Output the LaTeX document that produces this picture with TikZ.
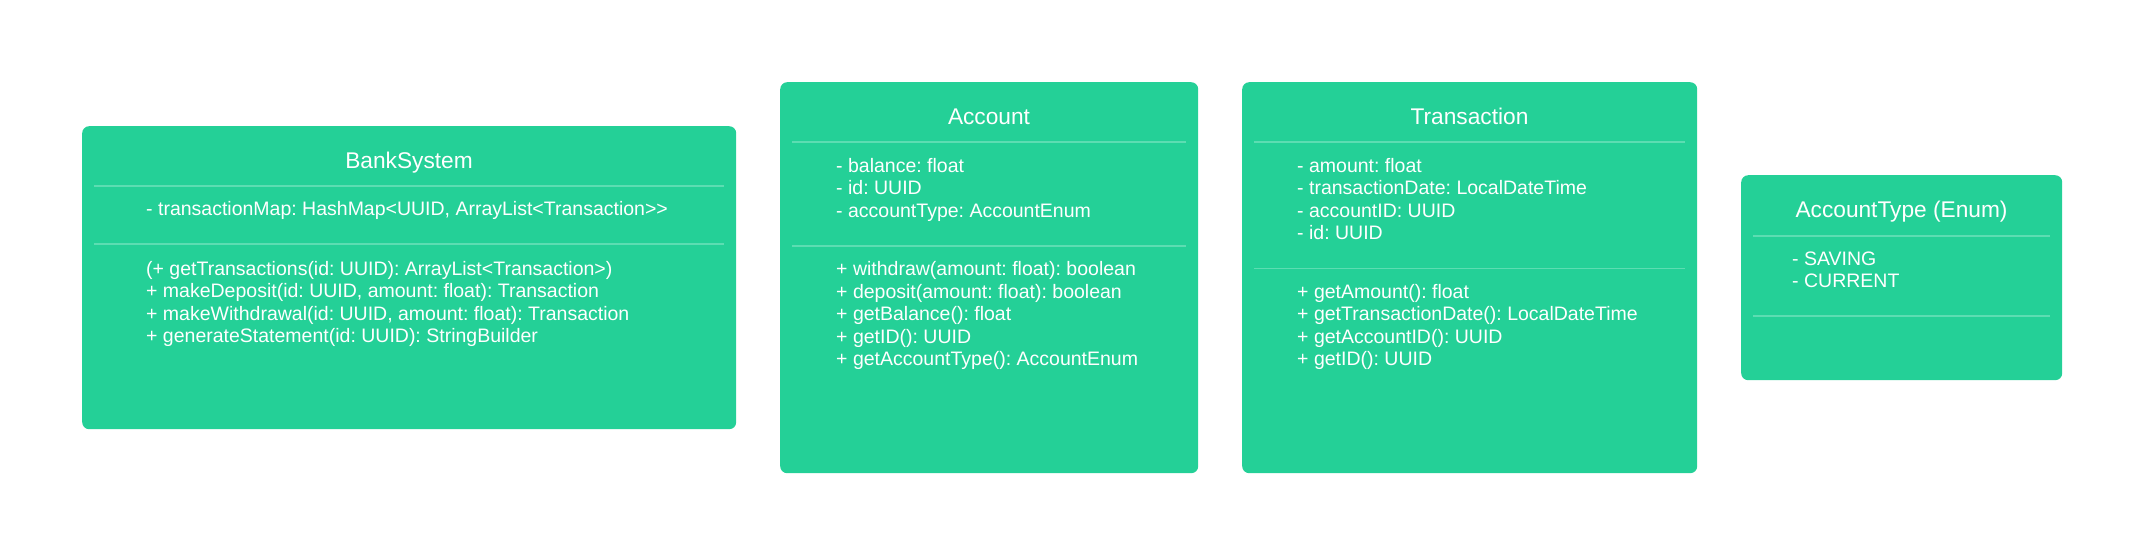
\documentclass[tikz,border=0pt]{standalone}
\usepackage{fontspec}
\setmainfont[Ligatures={TeXOff,NoCommon}]{Liberation Sans}
\frenchspacing
\definecolor{classgreen}{HTML}{24D097}
\definecolor{sepgreen}{HTML}{5CDDB2}

\begin{document}
\begin{tikzpicture}[x=1pt,y=-1pt,
  classbox/.style={fill=classgreen,rounded corners=7pt,inner sep=0pt,anchor=north west},
  classname/.style={text=white,font=\fontsize{22.7}{26}\selectfont,anchor=base,inner sep=0pt},
  members/.style={text=white,font=\fontsize{19.5}{22.5}\selectfont,align=left,anchor=base west,inner sep=0pt},
  sepline/.style={draw=sepgreen,line width=1.5pt,shorten <=12pt,shorten >=12pt}]

  \useasboundingbox (0,0) rectangle (2144,555);

  % BankSystem
  \node[classbox,minimum width=654pt,minimum height=303pt] (bank) at (82,126) {};
  \node[classname] (banktitle) at (409,168.3) {BankSystem};
  \node[members] (bankattr) at (146,215.7) {- transactionMap: HashMap<UUID, ArrayList<Transaction>>};
  % base of a multi-line node = last line
  \node[members] (bankops) at (146,342.5)
    {(+ getTransactions(id: UUID): ArrayList<Transaction>)\\
     + makeDeposit(id: UUID, amount: float): Transaction\\
     + makeWithdrawal(id: UUID, amount: float): Transaction\\
     + generateStatement(id: UUID): StringBuilder};
  \draw[sepline] (bank.west |- 0,186) -- (bank.east |- 0,186);
  \draw[sepline] (bank.west |- 0,244) -- (bank.east |- 0,244);

  % Account
  \node[classbox,minimum width=418pt,minimum height=391pt] (account) at (780,82) {};
  \node[classname] (accounttitle) at (989,124) {Account};
  \node[members] (accountattr) at (836,217.3)
    {- balance: float\\
     - id: UUID\\
     - accountType: AccountEnum};
  \node[members] (accountops) at (836,365.7)
    {+ withdraw(amount: float): boolean\\
     + deposit(amount: float): boolean\\
     + getBalance(): float\\
     + getID(): UUID\\
     + getAccountType(): AccountEnum};
  \draw[sepline] (account.west |- 0,142) -- (account.east |- 0,142);
  \draw[sepline] (account.west |- 0,246) -- (account.east |- 0,246);

  % Transaction
  \node[classbox,minimum width=455pt,minimum height=391pt] (trans) at (1242,82) {};
  \node[classname] (transtitle) at (1469.5,124) {Transaction};
  \node[members] (transattr) at (1297,239.8)
    {- amount: float\\
     - transactionDate: LocalDateTime\\
     - accountID: UUID\\
     - id: UUID};
  \node[members] (transops) at (1297,365.8)
    {+ getAmount(): float\\
     + getTransactionDate(): LocalDateTime\\
     + getAccountID(): UUID\\
     + getID(): UUID};
  \draw[sepline] (trans.west |- 0,142) -- (trans.east |- 0,142);
  \draw[sepline] (trans.west |- 0,268.3) -- (trans.east |- 0,268.3);

  % AccountType
  \node[classbox,minimum width=321pt,minimum height=205pt] (acctype) at (1741,175) {};
  \node[classname] (acctypetitle) at (1901.5,217.5) {AccountType (Enum)};
  \node[members] (acctypeattr) at (1792,287.5)
    {- SAVING\\
     - CURRENT};
  \draw[sepline] (acctype.west |- 0,236) -- (acctype.east |- 0,236);
  \draw[sepline] (acctype.west |- 0,316) -- (acctype.east |- 0,316);
\end{tikzpicture}
\end{document}
